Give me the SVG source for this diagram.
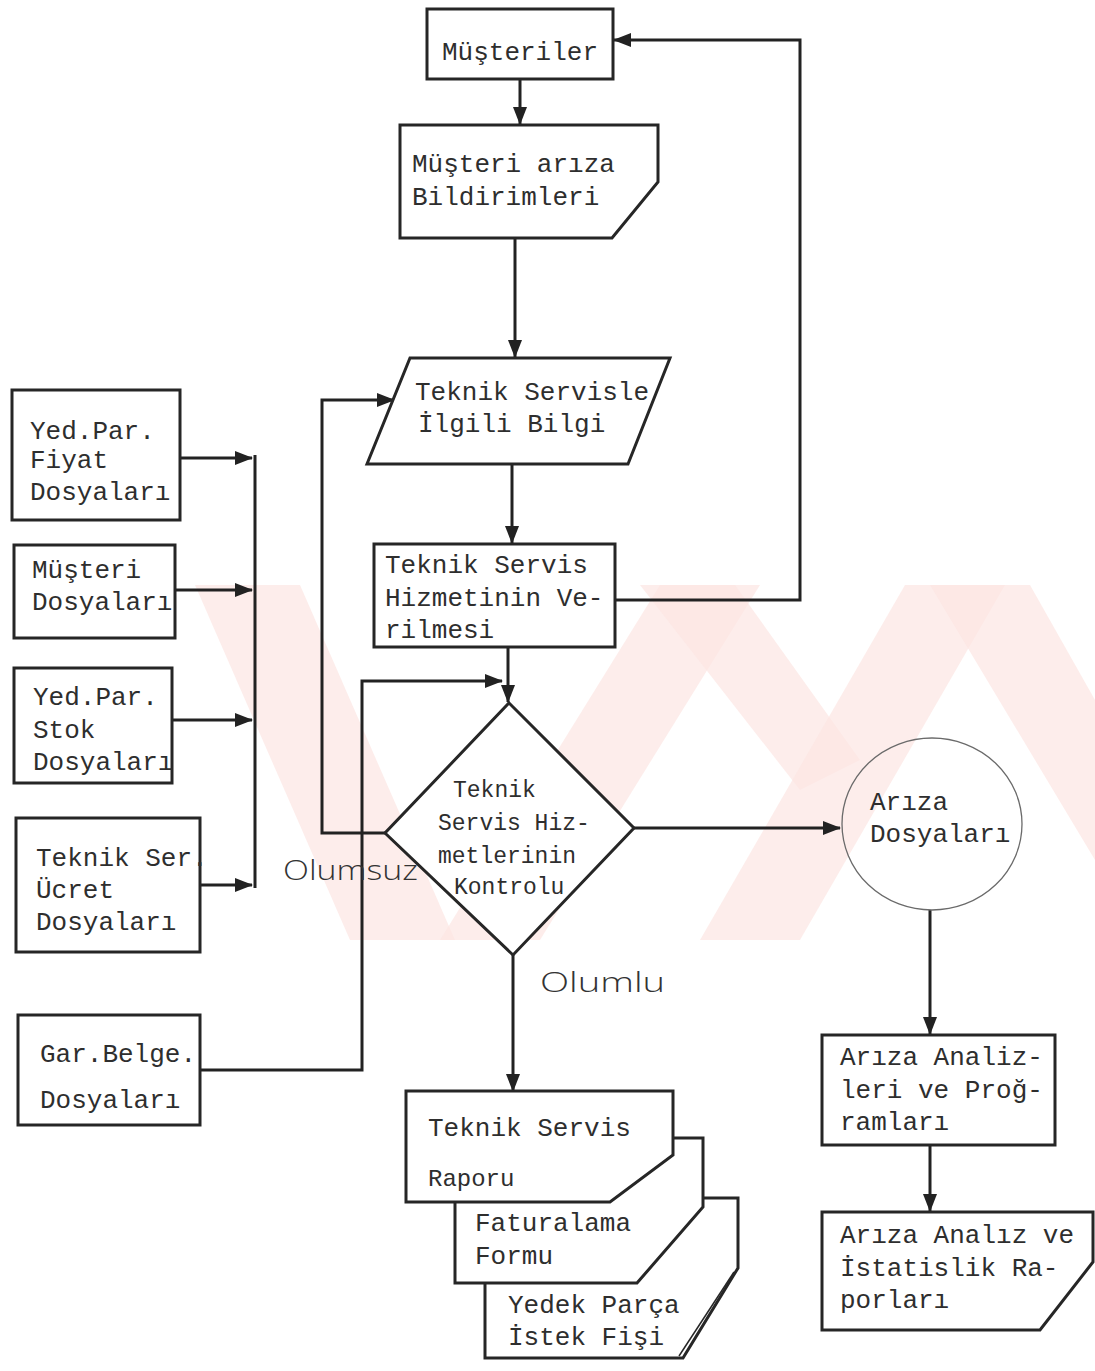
<svg xmlns="http://www.w3.org/2000/svg" width="1095" height="1371" viewBox="0 0 1095 1371">
<defs>
<style>
.bg{fill:#ffffff}
.wm{fill:#fce6e3;opacity:0.7}
.shape{fill:#ffffff;stroke:#262626;stroke-width:3;stroke-linejoin:miter}
.shape-nf{fill:none;stroke:#262626;stroke-width:3}
.circ{fill:none;stroke:#6a6a6a;stroke-width:1.3}
.conn{fill:none;stroke:#222222;stroke-width:3}
.t{font-family:"Liberation Mono","DejaVu Sans Mono",monospace;font-size:26px;fill:#2e2e2e}
.td{font-family:"Liberation Mono","DejaVu Sans Mono",monospace;font-size:23px;fill:#2e2e2e}
.hw{font-family:"Open Sans","Liberation Sans",sans-serif;font-size:27px;fill:#333333;font-weight:300}
</style>
<marker id="ah" viewBox="0 0 18 14" refX="17" refY="7" markerWidth="18" markerHeight="14" markerUnits="userSpaceOnUse" orient="auto">
<path d="M0,0 L18,7 L0,14 Z" fill="#222222"/>
</marker>
</defs>
<rect class="bg" x="0" y="0" width="1095" height="1371"/>
<g id="watermark">
<polygon class="wm" points="195,585 300,585 455,940 350,940"/>
<polygon class="wm" points="440,940 540,940 760,585 660,585"/>
<polygon class="wm" points="640,585 735,585 860,760 800,790"/>
<polygon class="wm" points="700,940 800,940 1005,585 905,585"/>
<polygon class="wm" points="930,585 1030,585 1095,700 1095,860"/>
</g>
<g id="connectors">
<path class="conn" d="M520,79 L520,124" marker-end="url(#ah)"/>
<path class="conn" d="M515,238 L515,357" marker-end="url(#ah)"/>
<path class="conn" d="M512,464 L512,543" marker-end="url(#ah)"/>
<path class="conn" d="M508,647 L508,702" marker-end="url(#ah)"/>
<path class="conn" d="M615,600 L800,600 L800,40 L614,40" marker-end="url(#ah)"/>
<path class="conn" d="M385,833 L322,833 L322,400 L394,400" marker-end="url(#ah)"/>
<path class="conn" d="M200,1070 L362,1070 L362,681 L502,681" marker-end="url(#ah)"/>
<path class="conn" d="M634,828 L840,828" marker-end="url(#ah)"/>
<path class="conn" d="M513,955 L513,1091" marker-end="url(#ah)"/>
<path class="conn" d="M930,910 L930,1034" marker-end="url(#ah)"/>
<path class="conn" d="M930,1145 L930,1211" marker-end="url(#ah)"/>
<path class="conn" d="M255,455 L255,888"/>
<path class="conn" d="M180,458 L252,458" marker-end="url(#ah)"/>
<path class="conn" d="M175,590 L252,590" marker-end="url(#ah)"/>
<path class="conn" d="M172,720 L252,720" marker-end="url(#ah)"/>
<path class="conn" d="M200,885 L252,885" marker-end="url(#ah)"/>
<text class="hw" x="283" y="880" textLength="135" lengthAdjust="spacingAndGlyphs">Olumsuz</text>
<text class="hw" x="540" y="992" textLength="125" lengthAdjust="spacingAndGlyphs">Olumlu</text>
</g>
<g id="musteriler">
<rect class="shape" x="427" y="9" width="186" height="70"/>
<text class="t" x="442" y="60">Müşteriler</text>
</g>
<g id="ariza-bildirimleri">
<polygon class="shape" points="400,125 658,125 658,182 612,238 400,238"/>
<text class="t" x="412" y="172">Müşteri arıza</text>
<text class="t" x="412" y="205">Bildirimleri</text>
</g>
<g id="ilgili-bilgi">
<polygon class="shape" points="410,358 670,358 628,464 367,464"/>
<text class="t" x="415" y="400">Teknik Servisle</text>
<text class="t" x="418" y="432">İlgili Bilgi</text>
</g>
<g id="hizmet-verilmesi">
<rect class="shape" x="374" y="544" width="241" height="103"/>
<text class="t" x="385" y="573">Teknik Servis</text>
<text class="t" x="385" y="606">Hizmetinin Ve-</text>
<text class="t" x="385" y="638">rilmesi</text>
</g>
<g id="kontrol">
<polygon class="shape" points="509,703 634,828 513,955 385,833"/>
<text class="td" x="453" y="797">Teknik</text>
<text class="td" x="438" y="830">Servis Hiz-</text>
<text class="td" x="438" y="863">metlerinin</text>
<text class="td" x="454" y="894">Kontrolu</text>
</g>
<g id="yedpar-fiyat">
<rect class="shape" x="12" y="390" width="168" height="130"/>
<text class="t" x="30" y="439">Yed.Par.</text>
<text class="t" x="30" y="468">Fiyat</text>
<text class="t" x="30" y="500">Dosyaları</text>
</g>
<g id="musteri-dosyalari">
<rect class="shape" x="14" y="545" width="161" height="93"/>
<text class="t" x="32" y="578">Müşteri</text>
<text class="t" x="32" y="610">Dosyaları</text>
</g>
<g id="yedpar-stok">
<rect class="shape" x="14" y="668" width="158" height="115"/>
<text class="t" x="33" y="705">Yed.Par.</text>
<text class="t" x="33" y="738">Stok</text>
<text class="t" x="33" y="770">Dosyaları</text>
</g>
<g id="ucret-dosyalari">
<rect class="shape" x="16" y="818" width="184" height="134"/>
<text class="t" x="36" y="866">Teknik Ser.</text>
<text class="t" x="36" y="898">Ücret</text>
<text class="t" x="36" y="930">Dosyaları</text>
</g>
<g id="garbelge">
<rect class="shape" x="18" y="1015" width="182" height="110"/>
<text class="t" x="40" y="1062">Gar.Belge.</text>
<text class="t" x="40" y="1108">Dosyaları</text>
</g>
<g id="ariza-dosyalari">
<ellipse class="circ" cx="932" cy="824" rx="90" ry="86"/>
<text class="t" x="870" y="810">Arıza</text>
<text class="t" x="870" y="842">Dosyaları</text>
</g>
<g id="ariza-analizleri">
<rect class="shape" x="822" y="1035" width="233" height="110"/>
<text class="t" x="840" y="1065">Arıza Analiz-</text>
<text class="t" x="840" y="1098">leri ve Proğ-</text>
<text class="t" x="840" y="1130">ramları</text>
</g>
<g id="istatistik-raporlari">
<polygon class="shape" points="822,1212 1093,1212 1093,1262 1040,1330 822,1330"/>
<text class="t" x="840" y="1243">Arıza Analız ve</text>
<text class="t" x="840" y="1276">İstatislik Ra-</text>
<text class="t" x="840" y="1308">porları</text>
</g>
<g id="yedek-parca-fisi">
<polygon class="shape" points="485,1198 738,1198 738,1268 683,1358 485,1358"/>
<line class="shape-nf" x1="734" y1="1272" x2="679" y2="1356" style="stroke-width:1.5"/>
<text class="t" x="508" y="1313">Yedek Parça</text>
<text class="t" x="508" y="1345">İstek Fişi</text>
</g>
<g id="faturalama-formu">
<polygon class="shape" points="455,1138 703,1138 703,1207 637,1283 455,1283"/>
<text class="t" x="475" y="1231">Faturalama</text>
<text class="t" x="475" y="1264">Formu</text>
</g>
<g id="servis-raporu">
<polygon class="shape" points="406,1091 673,1091 673,1155 610,1202 406,1202"/>
<text class="t" x="428" y="1136">Teknik Servis</text>
<text class="t" x="428" y="1186" style="font-size:24px">Raporu</text>
</g>
</svg>
